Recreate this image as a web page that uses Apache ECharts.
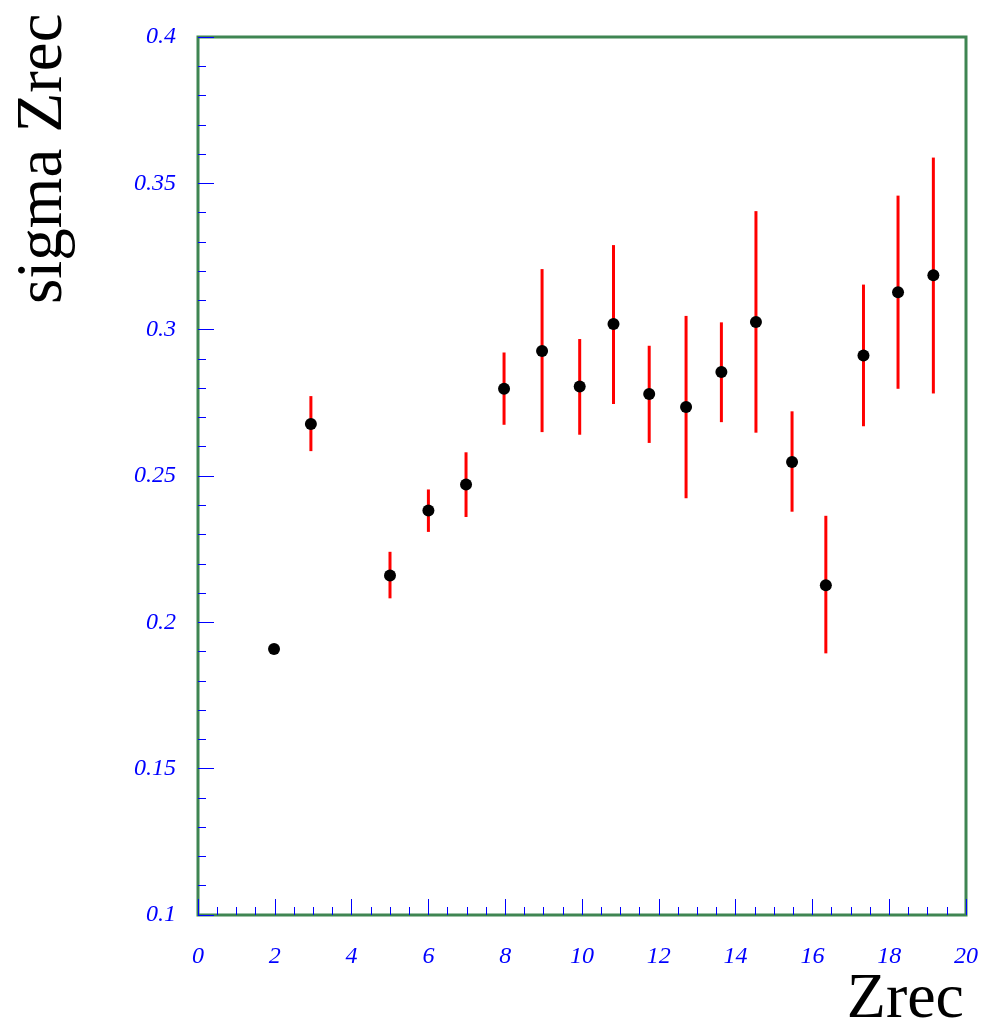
<!DOCTYPE html>
<html>
<head>
<meta charset="utf-8">
<script src="https://cdn.jsdelivr.net/npm/echarts@6/dist/echarts.min.js"></script>
<style>
  html, body { margin: 0; padding: 0; background: #ffffff; }
  #chart { width: 985px; height: 1024px; }
</style>
</head>
<body>
<div id="chart"></div>
<script>
// Measured resolution of Zrec in bins of reconstructed charge
const zrec  = [1.98, 2.94, 5.00, 6.00, 6.98, 7.97, 8.96, 9.94, 10.82, 11.75, 12.71, 13.63, 14.53, 15.47, 16.35, 17.33, 18.23, 19.15];
const sigma = [0.1909, 0.2678, 0.2160, 0.2382, 0.2471, 0.2798, 0.2927, 0.2806, 0.3019, 0.2780, 0.2736, 0.2855, 0.3026, 0.2548, 0.2127, 0.2912, 0.3128, 0.3186];
const errLow  = [0.1909, 0.2585, 0.2082, 0.2309, 0.2360, 0.2675, 0.2650, 0.2641, 0.2746, 0.2613, 0.2424, 0.2684, 0.2648, 0.2378, 0.1894, 0.2670, 0.2798, 0.2782];
const errHigh = [0.1909, 0.2773, 0.2241, 0.2454, 0.2581, 0.2922, 0.3207, 0.2968, 0.3289, 0.2945, 0.3047, 0.3025, 0.3405, 0.2721, 0.2364, 0.3154, 0.3458, 0.3588];

const xTitle = 'Zrec';
const yTitle = 'sigma Zrec';

const frameColor = '#3f8552';
const tickColor = '#0000ff';
const labelFont = { fontFamily: 'Liberation Serif', fontStyle: 'italic', fontSize: 24, color: tickColor };

const chart = echarts.init(document.getElementById('chart'), null, { renderer: 'canvas' });

chart.setOption({
  animation: false,
  backgroundColor: '#ffffff',
  grid: {
    left: 198, top: 37, width: 768, height: 878,
    show: true, borderColor: frameColor, borderWidth: 3, backgroundColor: 'transparent'
  },
  xAxis: {
    type: 'value', min: 0, max: 20, interval: 2,
    axisLine: { show: false },
    splitLine: { show: false },
    axisTick: { show: true, inside: true, length: 16, lineStyle: { color: tickColor, width: 1, opacity: 1 } },
    minorTick: { show: true, splitNumber: 4, length: 8, lineStyle: { color: tickColor, width: 1, opacity: 1 } },
    axisLabel: Object.assign({ margin: 30, showMinLabel: true, showMaxLabel: true }, labelFont)
  },
  yAxis: {
    type: 'value', min: 0.1, max: 0.4, interval: 0.05,
    axisLine: { show: false },
    splitLine: { show: false },
    axisTick: { show: true, inside: true, length: 16, lineStyle: { color: tickColor, width: 1, opacity: 1 } },
    minorTick: { show: true, splitNumber: 5, length: 8, lineStyle: { color: tickColor, width: 1, opacity: 1 } },
    axisLabel: Object.assign({ margin: 22, showMinLabel: true, showMaxLabel: true }, labelFont)
  },
  graphic: [
    {
      type: 'text', x: 964, y: 1032, z: 10,
      style: {
        text: xTitle, font: '64px "Liberation Serif"', fill: '#000000',
        textAlign: 'right', align: 'right', textVerticalAlign: 'bottom', verticalAlign: 'bottom'
      }
    },
    {
      type: 'text', x: 76, y: 304, rotation: Math.PI / 2, z: 10,
      style: {
        text: yTitle, font: '65px "Liberation Serif"', fill: '#000000',
        textAlign: 'left', align: 'left', textVerticalAlign: 'bottom', verticalAlign: 'bottom'
      }
    }
  ],
  series: [
    {
      type: 'custom',
      name: 'error',
      z: 2,
      data: zrec.map((x, i) => [x, errLow[i], errHigh[i]]),
      encode: { x: 0, y: [1, 2] },
      renderItem: function (params, api) {
        const p1 = api.coord([api.value(0), api.value(1)]);
        const p2 = api.coord([api.value(0), api.value(2)]);
        return {
          type: 'line',
          shape: { x1: p1[0], y1: p1[1], x2: p2[0], y2: p2[1] },
          style: { stroke: '#ff0000', lineWidth: 3 }
        };
      }
    },
    {
      type: 'scatter',
      name: 'sigma',
      z: 3,
      symbol: 'circle',
      symbolSize: 12,
      itemStyle: { color: '#000000', opacity: 1 },
      data: zrec.map((x, i) => [x, sigma[i]])
    }
  ]
});
</script>
</body>
</html>
